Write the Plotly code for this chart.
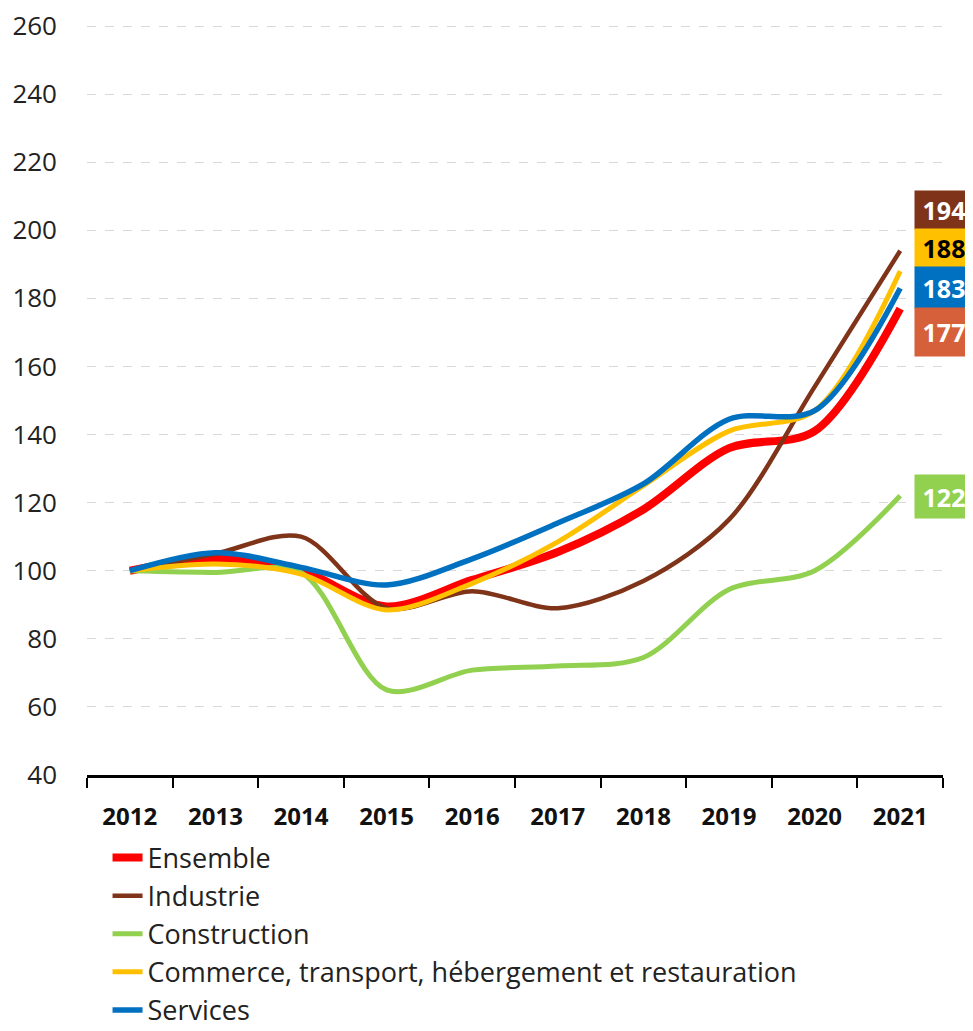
import plotly.graph_objects as go

years = ["2012", "2013", "2014", "2015", "2016", "2017", "2018", "2019", "2020", "2021"]

ensemble = [100, 103.5, 100, 89.5, 97.3, 105.5, 118, 136, 141, 177]
industrie = [100, 105, 110, 89, 94, 89, 97, 115, 154, 194]
construction = [100, 99.5, 99.5, 65, 70.8, 72, 74.5, 94.5, 100, 122]
commerce = [100, 102, 99, 88.5, 96.3, 108.5, 125, 141, 147, 188]
services = [100, 105.3, 101, 95.8, 103.5, 114, 125.5, 144.5, 147, 183]

names = ["Ensemble", "Industrie", "Construction",
         "Commerce, transport, hébergement et restauration", "Services"]
series = [ensemble, industrie, construction, commerce, services]
colors = ["#FF0000", "#7F3319", "#92D050", "#FFC000", "#0070C0"]
widths = [8, 4.5, 5, 5, 5.5]

end_labels = [194, 188, 183, 177, 122]
label_colors = ["#7F3319", "#FFC000", "#0070C0", "#D6603A", "#92D050"]
label_text_colors = ["white", "black", "white", "white", "white"]
label_yshift = [41, 23.5, 1, -23, -1]
label_heights = [38, 38, 41, 48, 43]

FONT = "Open Sans"

fig = go.Figure()
for i, (n, s, c, w) in enumerate(zip(names, series, colors, widths)):
    fig.add_trace(go.Scatter(
        x=years, y=s, name=n, mode="lines",
        line=dict(color=c, width=w, shape="spline", smoothing=0.9),
        legendgroup=f"g{i}",
    ))

last_idx = len(years) - 1
for v, bc, tc, ys, h in zip(end_labels, label_colors, label_text_colors, label_yshift, label_heights):
    fig.add_annotation(
        x=last_idx, y=v, xref="x", yref="y", xshift=44, yshift=ys,
        text=f"<b>{v}</b>", showarrow=False,
        font=dict(family=FONT, size=25, color=tc),
        bgcolor=bc, width=58, height=h, borderpad=0,
        xanchor="center", yanchor="middle", align="center", valign="middle",
    )

fig.update_layout(
    width=965, height=1023,
    margin=dict(l=79, r=30, t=17, b=256, autoexpand=False),
    paper_bgcolor="white", plot_bgcolor="white",
    font=dict(family=FONT, color="#222222"),
    showlegend=True,
    legend=dict(
        x=0.024, xanchor="left", y=-0.078, yanchor="top",
        orientation="v", font=dict(family=FONT, size=27, color="#222222"),
        tracegroupgap=0, bgcolor="rgba(0,0,0,0)", itemwidth=30,
    ),
    xaxis=dict(
        type="category", range=[-0.5, 9.5], autorange=False, showgrid=False,
        automargin=False,
        showline=True, linecolor="black", linewidth=2.5,
        ticks="outside", tickson="boundaries", ticklen=10, tickwidth=2, tickcolor="black",
        tickfont=dict(family=FONT, size=24, color="#111111", weight="bold"),
        ticklabelstandoff=18,
    ),
    yaxis=dict(
        range=[40, 260.3], autorange=False, dtick=20, tick0=40,
        automargin=False, ticklabeloverflow="allow",
        showgrid=True, gridcolor="#D9D9D9", gridwidth=1, griddash="dash",
        zeroline=False, showline=False, ticks="",
        tickfont=dict(family=FONT, size=26, color="#222222"),
        ticklabelstandoff=29,
    ),
)

fig.write_html("out.html")
